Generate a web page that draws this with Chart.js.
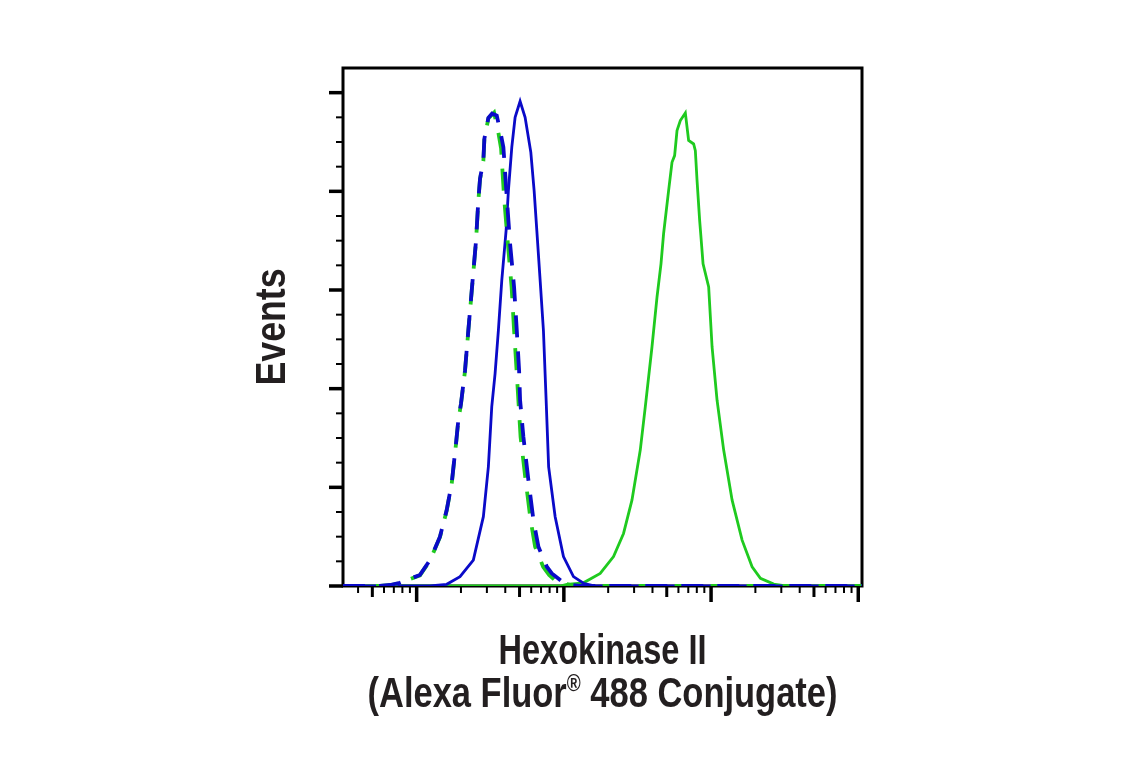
<!DOCTYPE html>
<html>
<head>
<meta charset="utf-8">
<title>Hexokinase II flow cytometry</title>
<script src="https://cdn.jsdelivr.net/npm/chart.js@4"></script>
<style>
  html, body { margin: 0; padding: 0; background: #fff; }
  canvas { display: block; }
</style>
</head>
<body>
<canvas id="myChart" width="1141" height="768"></canvas>
<script>
'use strict';

// fluorescence intensity (x) and events (y)
let blueDashX = [31.6, 56.3, 65.8, 77.0, 105.3, 123.2, 144.0, 160.0, 173.0, 185.1, 191.9, 200.1, 213.1, 224.4, 236.7, 253.2, 262.4, 269.5, 283.9, 288.4, 307.0, 325.2, 350.2, 372.8, 388.3, 392.6, 409.6, 420.0, 431.3, 459.1, 478.9, 496.5, 504.3, 531.1, 574.4, 621.2, 671.9, 766.2, 828.7, 943.7, 1020, 1291, 106000];
let blueDashY = [0, 0, 0.4, 1.3, 4.5, 10.5, 20.0, 30.8, 41.6, 57.8, 67.2, 74.0, 87.4, 103.6, 119.8, 140.1, 156.3, 165.1, 172.5, 181.3, 189.8, 191.5, 190.7, 183.3, 177.9, 173.8, 157.6, 148.2, 138.7, 121.2, 103.6, 87.4, 75.3, 60.4, 42.9, 26.7, 15.9, 7.8, 5.1, 2.4, 0.8, 0, 0];

let greenDashX = [31.6, 56.3, 65.8, 77.0, 105.3, 123.2, 144.0, 160.0, 173.0, 185.1, 191.9, 200.1, 213.1, 224.4, 236.7, 253.2, 262.4, 269.5, 283.9, 288.4, 307.0, 335.7, 360.2, 374.6, 392.6, 416.7, 441.6, 459.1, 477.4, 508.3, 549.7, 594.6, 637.9, 723.3, 794.3, 900.3, 1194, 106000];
let greenDashY = [0, 0, 0.3, 1.2, 4.3, 10.3, 19.8, 30.6, 41.4, 57.6, 67.0, 73.8, 87.2, 103.4, 119.6, 139.9, 156.1, 164.9, 172.3, 181.1, 189.6, 191.9, 183.3, 177.4, 157.6, 138.7, 121.2, 103.6, 87.4, 60.4, 42.9, 26.7, 15.9, 7.8, 4.5, 1.6, 0, 0];

let blueSolidX = [31.6, 123.2, 160.0, 197.0, 242.7, 283.9, 307.0, 323.7, 341.0, 359.1, 378.7, 405.1, 420.0, 443.0, 466.5, 504.3, 545.4, 596.5, 628.1, 655.2, 690.1, 726.5, 757.9, 788.2, 872.7, 993.8, 1162, 1359, 1633, 106000];
let blueSolidY = [0, 0, 0.7, 3.8, 10.5, 28.1, 48.3, 72.6, 86.1, 103.6, 123.9, 144.1, 160.3, 177.9, 190.0, 196.5, 190.0, 175.8, 160.3, 144.1, 123.9, 103.6, 75.3, 48.3, 28.1, 11.9, 3.8, 1.1, 0, 0];

let greenSolidX = [31.6, 943.7, 1048, 1359, 1766, 2175, 2543, 2901, 3304, 3574, 3968, 4293, 4569, 4760, 5147, 5428, 5655, 5871, 6182, 6688, 7040, 7614, 7820, 8031, 8364, 8523, 8822, 9632, 10160, 10985, 12180, 13900, 16250, 19000, 21650, 26670, 32020, 106000];
let greenSolidY = [0, 0, 0.7, 1.3, 5.1, 11.9, 21.3, 34.8, 55.1, 72.6, 96.9, 117.1, 130.6, 142.9, 160.3, 171.8, 174.5, 184.6, 188.7, 191.8, 180.6, 179.2, 176.5, 164.4, 148.2, 142.1, 130.6, 121.2, 96.9, 75.3, 55.1, 34.8, 18.6, 7.8, 3.1, 0.8, 0, 0];

// tick marks (no tick labels shown)
let xMajorTicks = [100, 1000, 10000, 100000];
let xMidTicks = [50, 500, 5000, 50000];
let xMinorTicks = [40, 60, 70, 80, 90, 200, 300, 400, 600, 700, 800, 900, 2000, 3000, 4000, 6000, 7000, 8000, 9000, 20000, 30000, 40000, 60000, 70000, 80000, 90000];
let yMajorTicks = [0, 40, 80, 120, 160, 200];
let yMinorTicks = [10, 20, 30, 50, 60, 70, 90, 100, 110, 130, 140, 150, 170, 180, 190, 210];

// axis titles; line 2 is split round the superscript ®
let xTitleLine1 = 'Hexokinase II';
let xTitleLine2 = ['(Alexa Fluor', '®', ' 488 Conjugate)'];
let yTitle = 'Events';

const blue = '#0a0ac8';
const green = '#1fca1f';
const textColor = '#231f20';
const fontFamily = '"Liberation Sans", Arial, sans-serif';

function toPoints(xs, ys) {
  let pts = [];
  for (let i = 0; i < xs.length; i++) {
    pts.push({ x: xs[i], y: ys[i] });
  }
  return pts;
}

function drawLine(ctx, x1, y1, x2, y2, w) {
  ctx.lineWidth = w;
  ctx.beginPath();
  ctx.moveTo(x1, y1);
  ctx.lineTo(x2, y2);
  ctx.stroke();
}

// frame and tick marks, drawn under the histogram lines
const frameTicks = {
  id: 'frameTicks',
  beforeDatasetsDraw(chart) {
    const ctx = chart.ctx;
    const a = chart.chartArea;
    const xs = chart.scales.x;
    const ys = chart.scales.y;
    ctx.save();
    ctx.strokeStyle = '#000';
    ctx.lineCap = 'butt';
    ctx.lineWidth = 3;
    ctx.strokeRect(a.left, a.top, a.right - a.left, a.bottom - a.top);

    yMajorTicks.forEach(v => {
      let py = ys.getPixelForValue(v);
      drawLine(ctx, a.left - 14, py, a.left, py, 3.5);
    });
    yMinorTicks.forEach(v => {
      let py = ys.getPixelForValue(v);
      if (py > a.top + 2) drawLine(ctx, a.left - 7, py, a.left, py, 2);
    });
    xMajorTicks.forEach(v => {
      let px = xs.getPixelForValue(v);
      drawLine(ctx, px, a.bottom, px, a.bottom + 16, 3.5);
    });
    xMidTicks.forEach(v => {
      let px = xs.getPixelForValue(v);
      drawLine(ctx, px, a.bottom, px, a.bottom + 11, 3);
    });
    xMinorTicks.forEach(v => {
      let px = xs.getPixelForValue(v);
      drawLine(ctx, px, a.bottom, px, a.bottom + 7, 2);
    });
    ctx.restore();
  }
};

// condensed bold titles: Liberation Sans squeezed to the widths in the picture
function condensedText(ctx, parts, cx, cy, width, size) {
  let total = 0;
  let widths = [];
  parts.forEach(p => {
    ctx.font = 'bold ' + p.size * size + 'px ' + fontFamily;
    let w = ctx.measureText(p.text).width;
    widths.push(w);
    total += w;
  });
  let sx = width / total;
  ctx.save();
  ctx.translate(cx, cy);
  ctx.scale(sx, 1);
  let x = -total / 2;
  parts.forEach((p, i) => {
    ctx.font = 'bold ' + p.size * size + 'px ' + fontFamily;
    ctx.fillText(p.text, x, -p.rise * size);
    x += widths[i];
  });
  ctx.restore();
}

const axisTitles = {
  id: 'axisTitles',
  afterDraw(chart) {
    const ctx = chart.ctx;
    const a = chart.chartArea;
    const mid = (a.left + a.right) / 2;
    ctx.save();
    ctx.fillStyle = textColor;
    ctx.textBaseline = 'alphabetic';
    ctx.textAlign = 'left';
    condensedText(ctx, [{ text: xTitleLine1, size: 1, rise: 0 }], mid, a.bottom + 77.5, 208, 42);
    condensedText(ctx, [
      { text: xTitleLine2[0], size: 1, rise: 0 },
      { text: xTitleLine2[1], size: 0.55, rise: 0.38 },
      { text: xTitleLine2[2], size: 1, rise: 0 }
    ], mid, a.bottom + 121, 470, 42);
    ctx.save();
    ctx.translate(285, (a.top + a.bottom) / 2);
    ctx.rotate(-Math.PI / 2);
    condensedText(ctx, [{ text: yTitle, size: 1, rise: 0 }], 0, 0, 117, 42);
    ctx.restore();
    ctx.restore();
  }
};

let ctx = document.getElementById('myChart').getContext('2d');
let myChart = new Chart(ctx, {
  type: 'line',
  data: {
    datasets: [{
      label: 'blue dashed',
      data: toPoints(blueDashX, blueDashY),
      borderColor: blue,
      borderWidth: 3.8,
      borderDash: [22, 14]
    }, {
      label: 'green dashed',
      data: toPoints(greenDashX, greenDashY),
      borderColor: green,
      borderWidth: 3.8,
      borderDash: [22, 14],
      borderDashOffset: 3
    }, {
      label: 'blue solid',
      data: toPoints(blueSolidX, blueSolidY),
      borderColor: blue,
      borderWidth: 2.8
    }, {
      label: 'green solid',
      data: toPoints(greenSolidX, greenSolidY),
      borderColor: green,
      borderWidth: 2.8
    }]
  },
  options: {
    responsive: false,
    animation: false,
    devicePixelRatio: 1,
    elements: {
      point: { radius: 0 },
      line: { tension: 0, fill: false }
    },
    layout: {
      padding: { left: 0, top: 68, right: 279, bottom: 0 }
    },
    plugins: {
      legend: { display: false },
      tooltip: { enabled: false }
    },
    scales: {
      x: {
        type: 'logarithmic',
        min: 31.6,
        max: 106000,
        grid: { display: false },
        border: { display: false },
        ticks: { display: false },
        afterFit(scale) { scale.height = 182; }
      },
      y: {
        min: 0,
        max: 210,
        grid: { display: false },
        border: { display: false },
        ticks: { display: false },
        afterFit(scale) { scale.width = 343; }
      }
    }
  },
  plugins: [frameTicks, axisTitles]
});
</script>
</body>
</html>
